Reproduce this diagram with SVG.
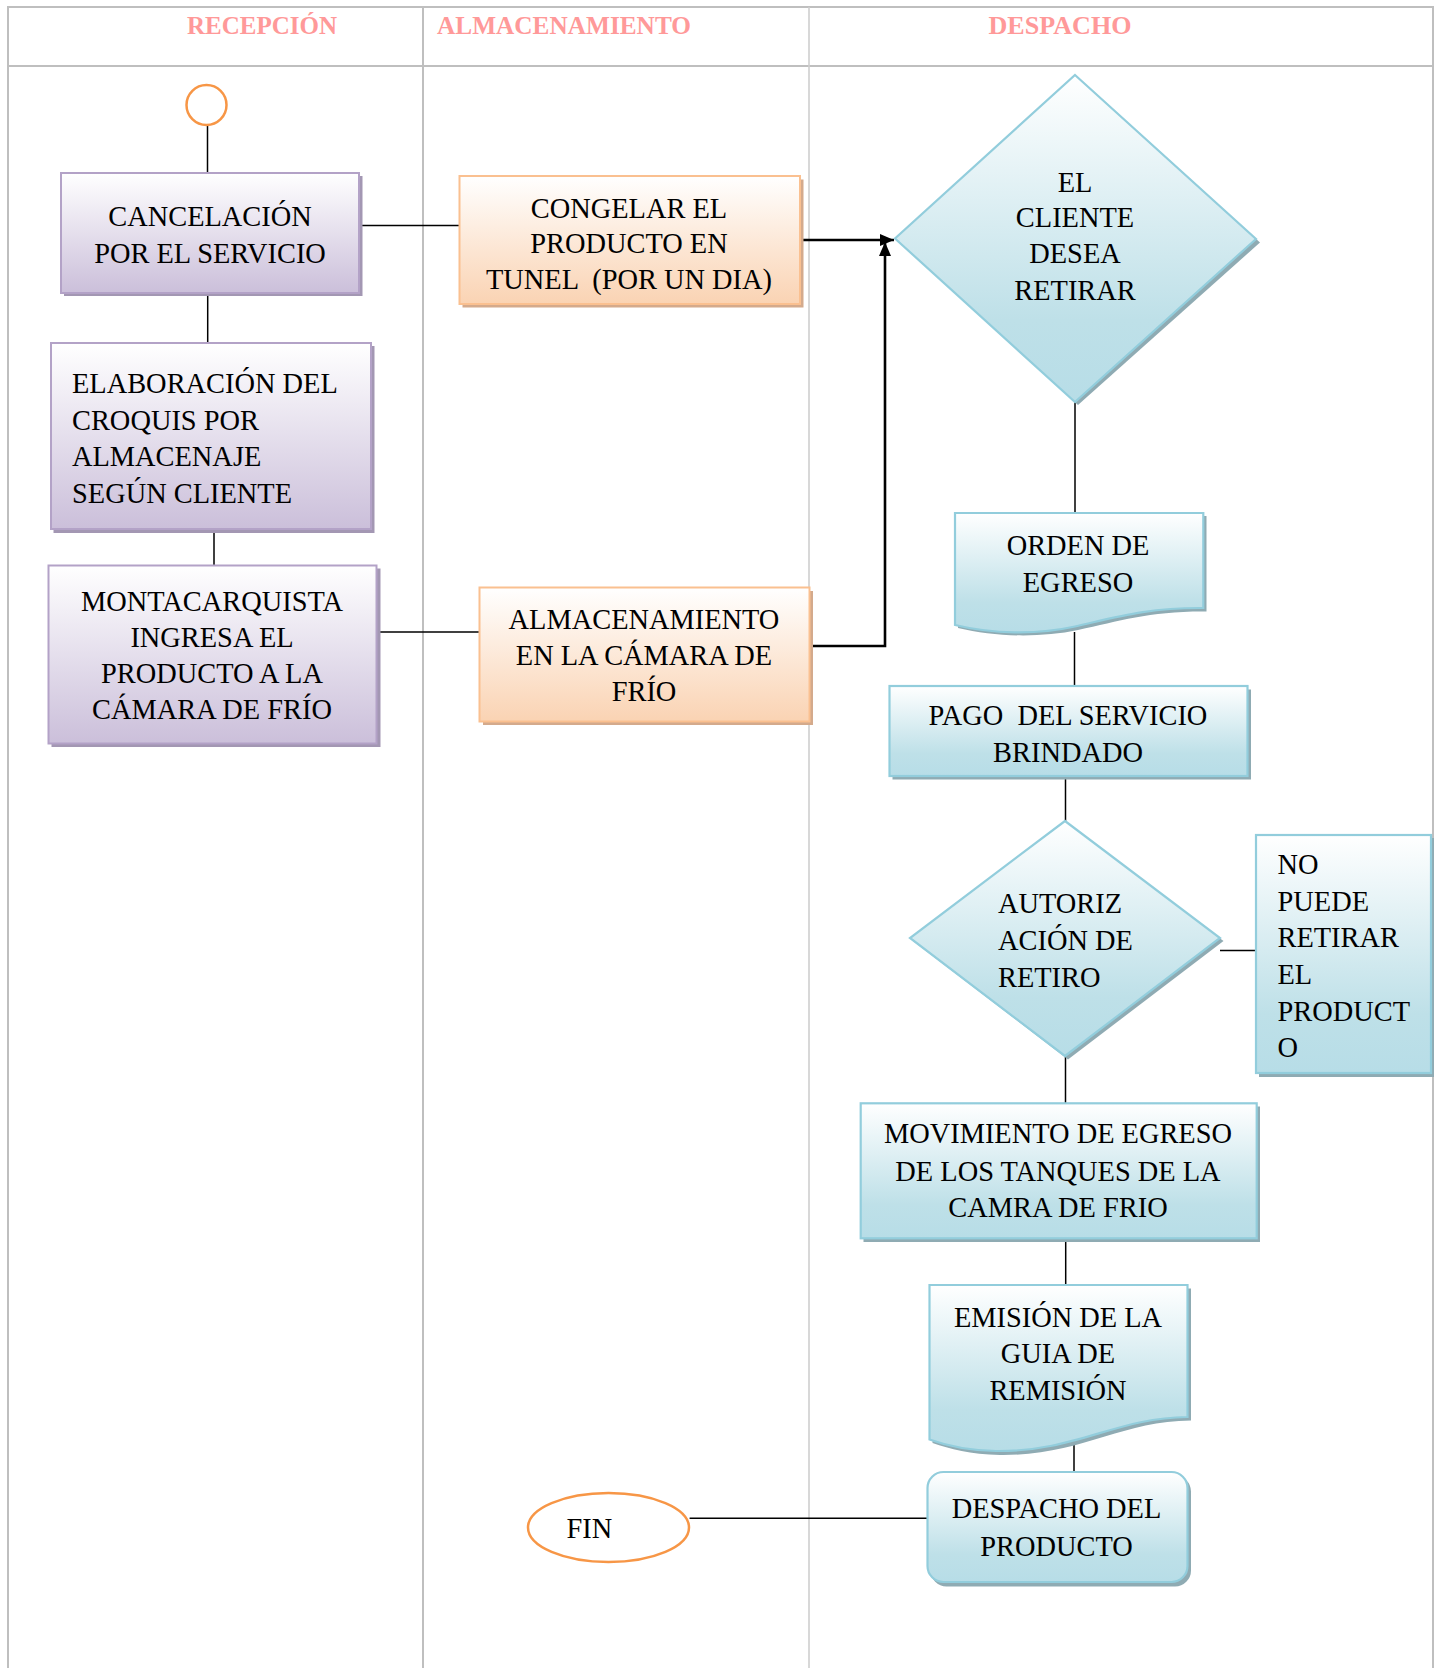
<svg xmlns="http://www.w3.org/2000/svg" width="1438" height="1668" viewBox="0 0 1438 1668">
<style>
.lane{stroke:#BFBFBF;stroke-width:2;fill:none}
.lane2{stroke:#CFCFCF;stroke-width:1.6;fill:none}
.hdr{font-family:"Liberation Serif",serif;font-weight:bold;font-size:25px;fill:#FF9999}
.t{font-family:"Liberation Serif",serif;font-size:28.4px;fill:#000}
.c{text-anchor:middle}
.pur{fill:url(#gP);stroke:#B3A2C7;stroke-width:2}
.purS{fill:#A397B3}
.org{fill:url(#gO);stroke:#FAC090;stroke-width:2}
.orgS{fill:#D4AA8C}
.blu{fill:url(#gB);stroke:#92CDDC;stroke-width:2.2}
.bluS{fill:#8FABB3}
.term{fill:#fff;stroke:#F79646;stroke-width:2.5}
.ln{stroke:#000;stroke-width:1.5;fill:none}
.lnb{stroke:#000;stroke-width:2.6;fill:none}
</style>
<defs>
<linearGradient id="gP" x1="0" y1="0" x2="0" y2="1"><stop offset="0" stop-color="#FFFFFF"/><stop offset="1" stop-color="#CBBFDA"/></linearGradient>
<linearGradient id="gO" x1="0" y1="0" x2="0" y2="1"><stop offset="0" stop-color="#FFFFFF"/><stop offset="1" stop-color="#FAD3B3"/></linearGradient>
<linearGradient id="gB" x1="0" y1="0" x2="0" y2="1"><stop offset="0" stop-color="#FFFFFF"/><stop offset="0.75" stop-color="#BEE0E8"/><stop offset="1" stop-color="#B7DDE7"/></linearGradient>
<marker id="ah" markerUnits="userSpaceOnUse" markerWidth="16" markerHeight="14" refX="14" refY="6" orient="auto"><path d="M0,0 L14,6 L0,12 Z" fill="#000"/></marker>
</defs>

<g id="lanes">
<path class="lane" d="M8,1668 V7 H1433 V1668"/>
<path class="lane" d="M8,66 H1433"/>
<path class="lane" d="M423,7 V1668"/>
<path class="lane2" d="M809,7 V1668"/>
<text class="hdr c" x="262" y="34">RECEPCIÓN</text>
<text class="hdr" x="437" y="34" textLength="254" lengthAdjust="spacingAndGlyphs">ALMACENAMIENTO</text>
<text class="hdr c" x="1060" y="34" textLength="143" lengthAdjust="spacingAndGlyphs">DESPACHO</text>
</g>

<g id="connectors">
<path class="ln" d="M207.5,126 V172"/>
<path class="ln" d="M207.7,293 V342"/>
<path class="ln" d="M214,523 V565"/>
<path class="ln" d="M377,632 H480"/>
<path class="ln" d="M359,225.5 H459"/>
<path class="lnb" d="M800,240 H894" marker-end="url(#ah)"/>
<path class="lnb" d="M809,646 H885 V242" marker-end="url(#ah)"/>
<path class="ln" d="M1075,402 V513"/>
<path class="ln" d="M1074.5,632 V686"/>
<path class="ln" d="M1065.5,776 V821"/>
<path class="ln" d="M1220,950.5 H1256"/>
<path class="ln" d="M1065.5,1056 V1103"/>
<path class="ln" d="M1065.7,1238 V1285"/>
<path class="ln" d="M1074,1437 V1472"/>
<path class="ln" d="M689.6,1518.3 H929"/>
</g>

<g id="start">
<circle class="term" cx="206.5" cy="105" r="20"/>
</g>

<g id="cancelacion">
<rect class="purS" x="64" y="176" width="298.5" height="120"/>
<rect class="pur" x="61" y="173" width="298" height="120"/>
<text class="t c" x="210" y="226">CANCELACIÓN</text>
<text class="t c" x="210" y="262.7">POR EL SERVICIO</text>
</g>

<g id="elaboracion">
<rect class="purS" x="53.5" y="346" width="321" height="187"/>
<rect class="pur" x="51" y="343" width="320" height="186"/>
<text class="t" x="72" y="393">ELABORACIÓN DEL</text>
<text class="t" x="72" y="429.5">CROQUIS POR</text>
<text class="t" x="72" y="466">ALMACENAJE</text>
<text class="t" x="72" y="502.7">SEGÚN CLIENTE</text>
</g>

<g id="montacarquista">
<rect class="purS" x="51.5" y="568.5" width="329" height="178.5"/>
<rect class="pur" x="48.5" y="565.5" width="328" height="178"/>
<text class="t c" x="212" y="610.7">MONTACARQUISTA</text>
<text class="t c" x="212" y="646.7">INGRESA EL</text>
<text class="t c" x="212" y="682.7">PRODUCTO A LA</text>
<text class="t c" x="212" y="719.3">CÁMARA DE FRÍO</text>
</g>

<g id="congelar">
<rect class="orgS" x="462.5" y="179.5" width="341" height="128"/>
<rect class="org" x="459.5" y="176" width="340.5" height="128"/>
<text class="t c" x="629" y="217.6">CONGELAR EL</text>
<text class="t c" x="629" y="253">PRODUCTO EN</text>
<text class="t c" x="629" y="289.4" xml:space="preserve">TUNEL  (POR UN DIA)</text>
</g>

<g id="almacenamiento">
<rect class="orgS" x="483" y="591" width="330" height="134"/>
<rect class="org" x="479.5" y="587.5" width="330" height="134"/>
<text class="t c" x="644" y="628.5">ALMACENAMIENTO</text>
<text class="t c" x="644" y="665">EN LA CÁMARA DE</text>
<text class="t c" x="644" y="701">FRÍO</text>
</g>

<g id="cliente-desea">
<path class="bluS" d="M1078,78 L1260,242.5 L1078,405 L898,241.5 Z"/>
<path class="blu" d="M1075,75 L1256,239 L1075,402 L895,238.5 Z"/>
<text class="t c" x="1075" y="191.7">EL</text>
<text class="t c" x="1075" y="226.7">CLIENTE</text>
<text class="t c" x="1075" y="263.3">DESEA</text>
<text class="t c" x="1075" y="300">RETIRAR</text>
</g>

<g id="orden-egreso">
<path class="bluS" d="M958,516 H1206.5 V611.5 C1150,611 1120,621 1078,630 C1040,638 995,637 958,628 Z"/>
<path class="blu" d="M955,513 H1203.3 V608 C1148,607.5 1117,617 1075,626.5 C1037,635 992,634 955,625 Z"/>
<text class="t c" x="1078" y="555">ORDEN DE</text>
<text class="t c" x="1078" y="591.7">EGRESO</text>
</g>

<g id="pago">
<rect class="bluS" x="892.5" y="689.5" width="358.5" height="90"/>
<rect class="blu" x="889.5" y="686" width="358" height="90"/>
<text class="t c" x="1068" y="725" xml:space="preserve">PAGO  DEL SERVICIO</text>
<text class="t c" x="1068" y="761.7">BRINDADO</text>
</g>

<g id="autorizacion">
<path class="bluS" d="M1068,824 L1223.5,941 L1068,1059.5 L913,941 Z"/>
<path class="blu" d="M1065,821 L1220,938 L1065,1056 L910,938 Z"/>
<text class="t" x="998" y="913">AUTORIZ</text>
<text class="t" x="998" y="950">ACIÓN DE</text>
<text class="t" x="998" y="987">RETIRO</text>
</g>

<g id="no-puede">
<rect class="bluS" x="1259" y="838" width="175" height="239"/>
<rect class="blu" x="1256" y="835" width="175" height="238"/>
<text class="t" x="1277.5" y="874">NO</text>
<text class="t" x="1277.5" y="910.7">PUEDE</text>
<text class="t" x="1277.5" y="947.3">RETIRAR</text>
<text class="t" x="1277.5" y="984.3">EL</text>
<text class="t" x="1277.5" y="1020.7">PRODUCT</text>
<text class="t" x="1277.5" y="1057.3">O</text>
</g>

<g id="movimiento">
<rect class="bluS" x="863.5" y="1106.5" width="396.5" height="135.5"/>
<rect class="blu" x="860.7" y="1103.3" width="396" height="135"/>
<text class="t c" x="1058" y="1143.3">MOVIMIENTO DE EGRESO</text>
<text class="t c" x="1058" y="1180.7">DE LOS TANQUES DE LA</text>
<text class="t c" x="1058" y="1216.7">CAMRA DE FRIO</text>
</g>

<g id="emision">
<path class="bluS" d="M932.5,1288.5 H1191 V1420.5 C1120,1421 1080,1456 1000,1455 C970,1454.5 950,1449 932.5,1443 Z"/>
<path class="blu" d="M929.5,1285 H1187.5 V1417 C1116,1417.5 1076,1452 996,1451 C966,1450.5 946,1445.5 929.5,1439.5 Z"/>
<text class="t c" x="1058" y="1326.7">EMISIÓN DE LA</text>
<text class="t c" x="1058" y="1363.3">GUIA DE</text>
<text class="t c" x="1058" y="1400">REMISIÓN</text>
</g>

<g id="despacho-producto">
<rect class="bluS" x="930.5" y="1475.5" width="260.5" height="111" rx="16"/>
<rect class="blu" x="927.5" y="1472" width="260" height="110" rx="16"/>
<text class="t c" x="1056.5" y="1518.3">DESPACHO DEL</text>
<text class="t c" x="1056.5" y="1556">PRODUCTO</text>
</g>

<g id="fin">
<ellipse class="term" cx="608.5" cy="1527.5" rx="80.5" ry="34.5"/>
<text class="t" x="566.5" y="1538">FIN</text>
</g>
</svg>
